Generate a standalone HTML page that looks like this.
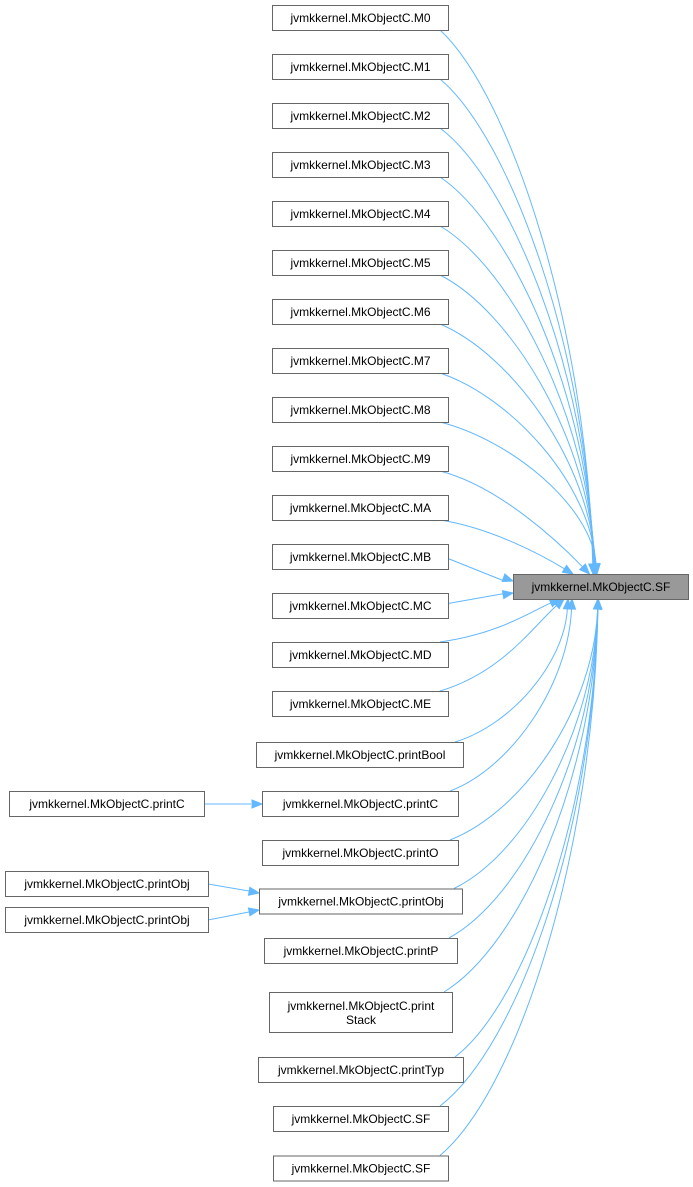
<!DOCTYPE html>
<html><head><meta charset="utf-8"><style>
body{margin:0;background:#fff;}
svg{display:block}
text{font-family:"Liberation Sans",sans-serif;font-size:12px;fill:#000}
</style></head><body>
<svg id="s" width="693" height="1187" xmlns="http://www.w3.org/2000/svg"></svg>
<script>
const s=document.getElementById('s');
const NS='http://www.w3.org/2000/svg';
function el(t,a){const e=document.createElementNS(NS,t);for(const k in a)e.setAttribute(k,a[k]);s.appendChild(e);return e;}
const nodes=[];
const names=['M0','M1','M2','M3','M4','M5','M6','M7','M8','M9','MA','MB','MC','MD','ME'];
names.forEach((n,i)=>nodes.push({x:272,w:176,cy:17.5+i*49,h:25,t:['jvmkkernel.MkObjectC.'+n]}));
nodes.push({x:256,w:207,cy:754.5,h:25,t:['jvmkkernel.MkObjectC.printBool']});
nodes.push({x:262,w:196,cy:803.5,h:25,t:['jvmkkernel.MkObjectC.printC']});
nodes.push({x:262,w:196,cy:852.5,h:25,t:['jvmkkernel.MkObjectC.printO']});
nodes.push({x:259,w:203,cy:901,h:25,t:['jvmkkernel.MkObjectC.printObj']});
nodes.push({x:264,w:193,cy:950.5,h:25,t:['jvmkkernel.MkObjectC.printP']});
nodes.push({x:269,w:183,cy:1012,h:40,t:['jvmkkernel.MkObjectC.print','Stack']});
nodes.push({x:258,w:205,cy:1069.5,h:25,t:['jvmkkernel.MkObjectC.printTyp']});
nodes.push({x:273,w:175,cy:1118.5,h:25,t:['jvmkkernel.MkObjectC.SF']});
nodes.push({x:273,w:175,cy:1168,h:25,t:['jvmkkernel.MkObjectC.SF']});
const col='#63b8ff';
function arrow(ex,ey,px,py){const dx=ex-px,dy=ey-py,L=Math.hypot(dx,dy),ux=dx/L,uy=dy/L;const bx=ex-ux*10,by=ey-uy*10;
el('polygon',{points:`${ex},${ey} ${bx-uy*4},${by+ux*4} ${bx+uy*4},${by-ux*4}`,fill:col,stroke:col});}
const SFy=574,SFh=25;
nodes.forEach((n,i)=>{
 const x1=n.x+n.w;
 let sx,sy,ex,ey,c1x,c1y,c2x,c2y;
 if(i===11){sx=x1;sy=n.cy+2;ex=513;ey=581;el('path',{d:`M${sx},${sy} L${ex-10},${ey-0.5}`,stroke:col,fill:'none'});arrow(ex,ey,sx,sy);return;}
 if(i===12){sx=x1;sy=n.cy-2;ex=513;ey=593;el('path',{d:`M${sx},${sy} L${ex-10},${ey+0.8}`,stroke:col,fill:'none'});arrow(ex,ey,sx,sy);return;}
 if(i<11){
  const k=10-i; ex=598-k*0.5-(i===10?25:0)-(i===9?8:0); ey=SFy;
  sx=x1-8; sy=n.cy+n.h/2;
  const dy=ey-sy;
  c1x=sx+40+(ex-sx)*0.2; c1y=sy+dy*0.12;
  c2x=ex-6; c2y=ey-dy*0.45;
  if(i>=9){c1x=sx+(ex-sx)*0.4;c1y=sy+dy*0.15;c2x=ex-(ex-sx)*0.2;c2y=ey-dy*0.3;}
 } else {
  ex=Math.min(600,560+(i-13)*4); if(i>=17)ex=598; ey=SFy+SFh;
  sx=x1-8; sy=n.cy-n.h/2;
  const dy=ey-sy;
  c1x=sx+(ex-sx)*0.5; c1y=sy+dy*0.12;
  c2x=ex-4; c2y=ey-dy*0.45;
  if(i<=14){c1x=sx+(ex-sx)*0.5;c1y=sy+dy*0.2;c2x=ex-(ex-sx)*0.25;c2y=ey-dy*0.3;}
 }
 const dx=ex-c2x,dyy=ey-c2y,L=Math.hypot(dx,dyy);const px=ex-dx/L*10,py=ey-dyy/L*10;
 el('path',{d:`M${sx},${sy} C${c1x},${c1y} ${c2x},${c2y} ${px},${py}`,stroke:col,fill:'none'});
 arrow(ex,ey,c2x,c2y);
});
el('path',{d:'M204,804 L251,804',stroke:col,fill:'none'});arrow(262,804,204,804);
el('path',{d:'M208,884 L249,891',stroke:col,fill:'none'});arrow(259,893,208,884);
el('path',{d:'M208,920 L249,912',stroke:col,fill:'none'});arrow(259,910,208,920);
function box(x,y,w,h,t,fill){el('rect',{x:x+.5,y:y+.5,width:w,height:h,fill:fill||'#fff',stroke:'#666'});
 if(t.length===1){const e=el('text',{x:x+w/2+.5,y:y+h/2+4.5,'text-anchor':'middle'});e.textContent=t[0];}
 else t.forEach((tt,j)=>{const e=el('text',{x:x+w/2+.5,y:y+h/2-2+j*14,'text-anchor':'middle'});e.textContent=tt;});}
nodes.forEach(n=>box(n.x,n.cy-n.h/2,n.w,n.h,n.t));
box(513,SFy,175,SFh,['jvmkkernel.MkObjectC.SF'],'#999');
box(9,791,195,25,['jvmkkernel.MkObjectC.printC']);
box(5,871,203,25,['jvmkkernel.MkObjectC.printObj']);
box(5,907,203,25,['jvmkkernel.MkObjectC.printObj']);
</script>
</body></html>
